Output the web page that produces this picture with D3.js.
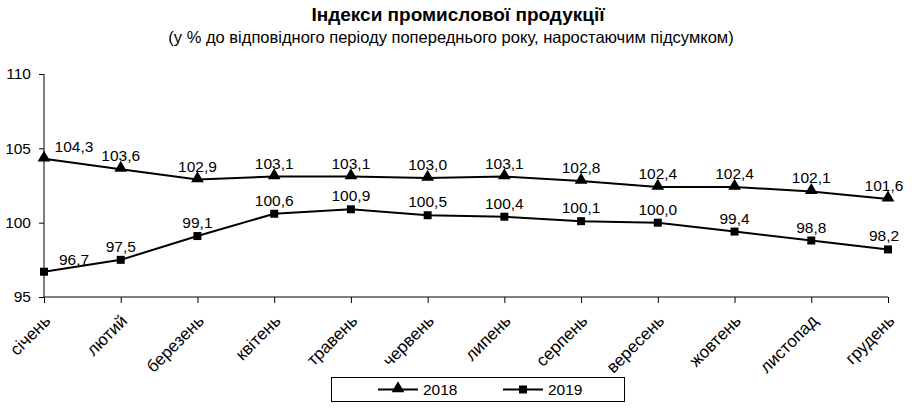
<!DOCTYPE html>
<html><head><meta charset="utf-8">
<script src="https://cdn.jsdelivr.net/npm/d3@7"></script>
<style>body{margin:0;background:#fff}svg{display:block}text{font-family:"Liberation Sans Narrow","Liberation Sans",Arial,sans-serif}</style>
</head><body><svg id="c" width="918" height="416"></svg>
<script>
const months = ["січень","лютий","березень","квітень","травень","червень","липень","серпень","вересень","жовтень","листопад","грудень"];
const values2018 = [104.3,103.6,102.9,103.1,103.1,103.0,103.1,102.8,102.4,102.4,102.1,101.6];
const values2019 = [96.7,97.5,99.1,100.6,100.9,100.5,100.4,100.1,100.0,99.4,98.8,98.2];
const yTicks = [95,100,105,110];
const seriesNames = ["2018","2019"];

const svg = d3.select("#c");
const x = d3.scalePoint().domain(months).range([44,888]).padding(0);
const y = d3.scaleLinear().domain([95,110]).range([297,74]);
const fmt = v => d3.format(".1f")(v).replace(".", ",");

svg.append("text").attr("x",458).attr("y",21).attr("text-anchor","middle")
  .attr("font-size",19).attr("font-weight","bold").text("Індекси промислової продукції");
svg.append("text").attr("x",451).attr("y",43).attr("text-anchor","middle")
  .attr("font-size",16.5).text("(у % до відповідного періоду попереднього року, наростаючим підсумком)");

// y axis
const ya = svg.append("g").attr("transform","translate(44,0)")
  .call(d3.axisLeft(y).tickValues(yTicks).tickSize(5).tickPadding(8).tickFormat(d3.format("d")));
ya.selectAll("path,line").attr("stroke","#000").attr("stroke-width",1);
ya.select(".domain").attr("d","M0,297V74");
ya.selectAll("text").attr("font-size",15.5).attr("fill","#000").attr("font-family",null);

// x axis
const xa = svg.append("g").attr("transform","translate(0,297)")
  .call(d3.axisBottom(x).tickSize(6).tickSizeOuter(0));
xa.selectAll("path,line").attr("stroke","#000").attr("stroke-width",1);
xa.select(".domain").attr("d","M44,0H888");
xa.selectAll("text").attr("font-size",17).attr("fill","#000").attr("font-family",null)
  .attr("text-anchor","end").attr("dy",null).attr("y",0)
  .attr("transform","translate(7,25) rotate(-45)");

const line = d3.line().x((d,i)=>x(months[i])).y(d=>y(d));
const tri = d3.symbol().type(d3.symbolTriangle).size(70);
const sq = d3.symbol().type(d3.symbolSquare).size(64);

[values2018, values2019].forEach((vals,si)=>{
  const g = svg.append("g");
  g.append("path").attr("d",line(vals)).attr("fill","none").attr("stroke","#000").attr("stroke-width",2);
  g.selectAll("path.m").data(vals).join("path").attr("class","m")
    .attr("d", si===0?tri():sq())
    .attr("transform",(d,i)=>`translate(${x(months[i])},${y(d)+(si===0?-1:0)})`)
    .attr("fill","#000");
  g.selectAll("text").data(vals).join("text")
    .attr("x",(d,i)=> x(months[i]) + (i===0? 30 : (i===11? -4 : 0)))
    .attr("y",(d,i)=> y(d) - (i===0? 7 : 8))
    .attr("text-anchor","middle").attr("font-size",15.5).text(fmt);
});

// legend
const lg = svg.append("g");
lg.append("rect").attr("x",331.5).attr("y",377.5).attr("width",293).attr("height",24).attr("fill","#fff").attr("stroke","#000");
seriesNames.forEach((n,i)=>{
  const lx = i===0?378:503;
  lg.append("line").attr("x1",lx).attr("x2",lx+40).attr("y1",389.5).attr("y2",389.5).attr("stroke","#000").attr("stroke-width",2);
  lg.append("path").attr("d", i===0?tri():sq()).attr("transform",`translate(${lx+20},${389.5+(i===0?-1:0)})`);
  lg.append("text").attr("x",lx+45).attr("y",395).attr("font-size",15.5).text(n);
});
</script></body></html>
